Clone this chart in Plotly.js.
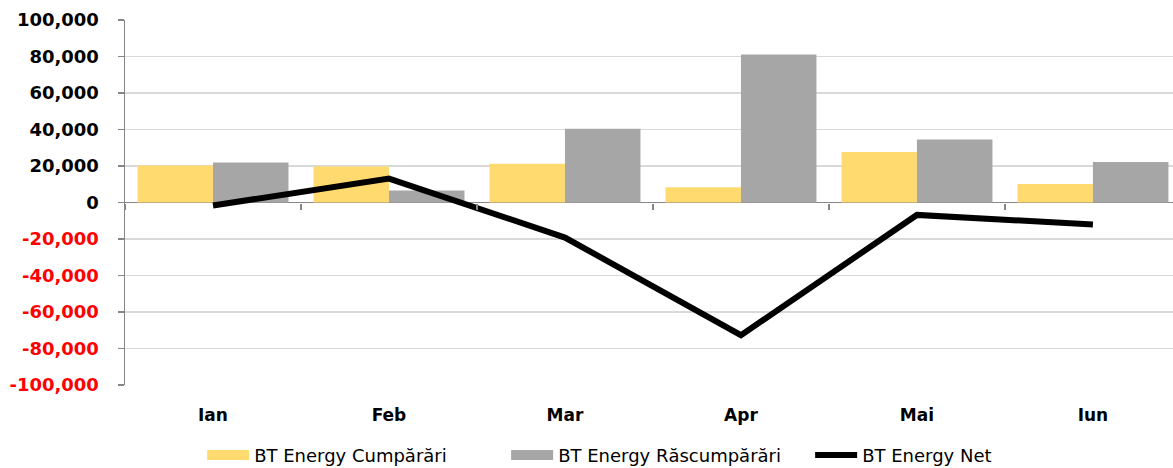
<!DOCTYPE html>
<html>
<head>
<meta charset="utf-8">
<script src="https://cdn.plot.ly/plotly-3.0.1.min.js"></script>
<style>html,body{margin:0;padding:0;background:#fff}#chart{width:1173px;height:468px}</style>
</head>
<body>
<div id="chart"></div>
<script>
const months = ["Ian", "Feb", "Mar", "Apr", "Mai", "Iun"];
const cumparari = [20300, 19700, 21200, 8400, 27700, 10100];
const rascumparari = [21900, 6600, 40400, 81100, 34500, 22200];
const net = [-1600, 13100, -19200, -72700, -6800, -12100];
const seriesNames = ["BT Energy Cumpărări", "BT Energy Răscumpărări", "BT Energy Net"];
const yTickVals = [100000, 80000, 60000, 40000, 20000, 0, -20000, -40000, -60000, -80000, -100000];
const yTickText = yTickVals.map(v => {
  const s = v.toLocaleString('en-US');
  return v < 0 ? '<span style="color:#ff0000">' + s + '</span>' : s;
});

const yellow = '#FFDB6F', gray = '#A6A6A6';

const traces = [
  {type: 'bar', name: seriesNames[0], x: months, y: cumparari,
   marker: {color: yellow}, showlegend: false, legendgroup: 'a'},
  {type: 'bar', name: seriesNames[1], x: months, y: rascumparari,
   marker: {color: gray}, showlegend: false, legendgroup: 'b'},
  {type: 'scatter', mode: 'lines', name: seriesNames[2], x: months, y: net,
   line: {color: '#000000', width: 6}, showlegend: false, legendgroup: 'c'},
  // legend swatches (no data points)
  {type: 'scatter', mode: 'lines', name: seriesNames[0], x: [null], y: [null],
   line: {color: yellow, width: 11}, legendgroup: 'a'},
  {type: 'scatter', mode: 'lines', name: seriesNames[1], x: [null], y: [null],
   line: {color: gray, width: 11}, legendgroup: 'b'},
  {type: 'scatter', mode: 'lines', name: seriesNames[2], x: [null], y: [null],
   line: {color: '#000000', width: 6}, legendgroup: 'c'},
  {type: 'scatter', mode: 'lines', x: months, y: net, xaxis: 'x2',
   showlegend: false, hoverinfo: 'skip', line: {width: 0, color: 'rgba(0,0,0,0)'}}
];

const layout = {
  width: 1173, height: 468,
  margin: {l: 125, r: 0, t: 20, b: 83, autoexpand: false},
  paper_bgcolor: '#ffffff', plot_bgcolor: '#ffffff',
  barmode: 'group', bargap: 0.142, bargroupgap: 0,
  font: {family: 'DejaVu Sans, sans-serif', color: '#000'},
  xaxis: {
    type: 'category', showgrid: false, zeroline: false, showline: false,
    ticks: '', ticklabelstandoff: 18,
    tickfont: {family: 'DejaVu Sans, sans-serif', size: 17, color: '#000', weight: 'bold'},
    range: [-0.5, 5.455], fixedrange: true
  },
  xaxis2: {
    type: 'category', overlaying: 'x', anchor: 'free', position: 0.5,
    showgrid: false, zeroline: false, showline: false, showticklabels: false,
    ticks: 'outside', ticklen: 6, tickwidth: 1.5, tickcolor: '#868686',
    tickson: 'boundaries', range: [-0.5, 5.455]
  },
  yaxis: {
    range: [-100000, 100000], tickvals: yTickVals, ticktext: yTickText,
    showgrid: true, gridcolor: '#D9D9D9', gridwidth: 1.5,
    zeroline: true, zerolinecolor: '#868686', zerolinewidth: 1.5,
    showline: true, linecolor: '#868686', linewidth: 1.5,
    ticks: 'outside', ticklen: 6, tickcolor: '#868686', tickwidth: 1.5,
    ticklabelstandoff: 15,
    tickfont: {family: 'DejaVu Sans, sans-serif', size: 18, color: '#000', weight: 'bold'},
    fixedrange: true
  },
  legend: {
    orientation: 'h', x: 0.0736, xanchor: 'left',
    y: -0.142, yanchor: 'top', itemwidth: 42,
    entrywidth: 247, entrywidthmode: 'pixels',
    font: {family: 'DejaVu Sans, sans-serif', size: 18, color: '#000'},
    tracegroupgap: 0, bgcolor: 'rgba(0,0,0,0)'
  },
  showlegend: true
};

Plotly.newPlot('chart', traces, layout, {displayModeBar: false, staticPlot: true});
</script>
</body>
</html>
